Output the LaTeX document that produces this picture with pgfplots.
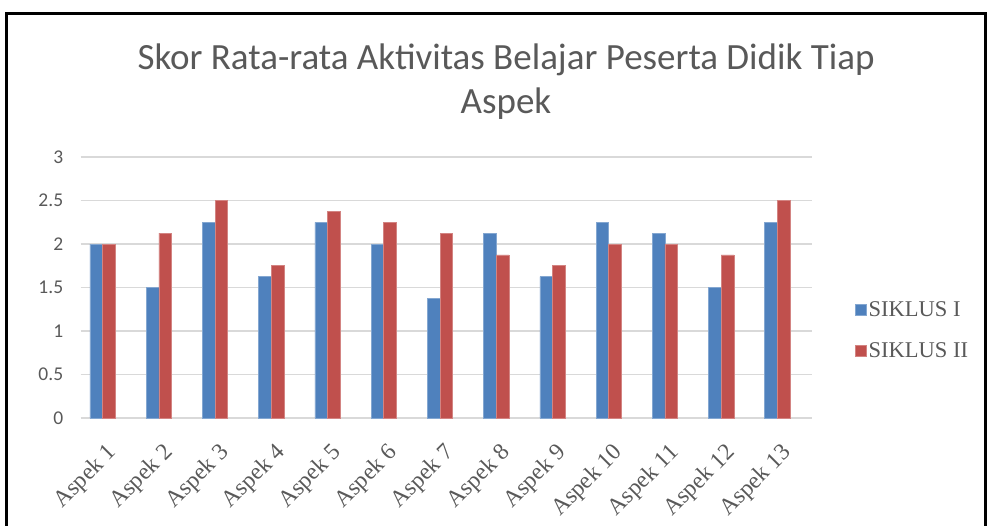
\documentclass[border=0pt]{standalone}
\usepackage{pgfplots}
\pgfplotsset{compat=1.18}
\usepackage{pgfplotstable}
\usepackage{fontspec}
\setmainfont{Liberation Serif}
\newfontfamily\calibri{Carlito}
\definecolor{sblue}{HTML}{4F81BD}
\definecolor{sred}{HTML}{C0504D}
\definecolor{tgray}{HTML}{595959}
\definecolor{ggray}{HTML}{D9D9D9}
\pgfplotstableread{
x s1 s2
0 2 2
1 1.5 2.125
2 2.25 2.5
3 1.625 1.75
4 2.25 2.375
5 2 2.25
6 1.375 2.125
7 2.125 1.875
8 1.625 1.75
9 2.25 2
10 2.125 2
11 1.5 1.875
12 2.25 2.5
}\data
\begin{document}
\begin{tikzpicture}
\useasboundingbox (0pt,0pt) rectangle (988pt,-525pt);
\draw[line width=3pt] (6pt,-527pt) -- (6pt,-13pt) -- (985pt,-13pt) -- (985pt,-527pt);
\node[font=\calibri\fontsize{37}{44}\selectfont, text=tgray, align=center] at (506pt,-82pt) {Skor Rata-rata Aktivitas Belajar Peserta Didik Tiap\\Aspek};
\begin{axis}[
  at={(80.7pt,-418pt)}, anchor=south west,
  scale only axis, width=731pt, height=261pt,
  ybar=0pt, bar width=0.225,
  xmin=-0.39, xmax=12.61, ymin=0, ymax=3,
  ytick={0,0.5,1,1.5,2,2.5,3},
  xtick=data,
  xticklabels={Aspek 1,Aspek 2,Aspek 3,Aspek 4,Aspek 5,Aspek 6,Aspek 7,Aspek 8,Aspek 9,Aspek 10,Aspek 11,Aspek 12,Aspek 13},
  axis line style={draw=none},
  ymajorgrids, grid style={ggray, line width=1.5pt},
  major tick length=0pt,
  /pgf/number format/assume math mode=true,
  yticklabel style={font=\calibri\fontsize{19.5}{19.5}\selectfont, text=tgray, xshift=-14pt},
  xticklabel style={font=\fontsize{23.5}{23.5}\selectfont, text=tgray, yshift=-21pt, xshift=3pt, rotate=45, anchor=north east, inner sep=2pt},
  legend style={at={(1.055,0.337)}, anchor=west, draw=none, fill=none, font=\fontsize{22.5}{22.5}\selectfont, text=tgray, row sep=21pt, legend cell align=left},
  legend image code/.code={\fill[#1] (-3pt,-5.5pt) rectangle (8pt,5.5pt);},
  clip=false,
]
\addplot[fill=sblue, draw=sblue!70!white, line width=0.6pt] table[x=x, y=s1] {\data};
\addplot[fill=sred, draw=sred!70!white, line width=0.6pt] table[x=x, y=s2] {\data};
\legend{SIKLUS I, SIKLUS II}
\end{axis}
\end{tikzpicture}
\end{document}
